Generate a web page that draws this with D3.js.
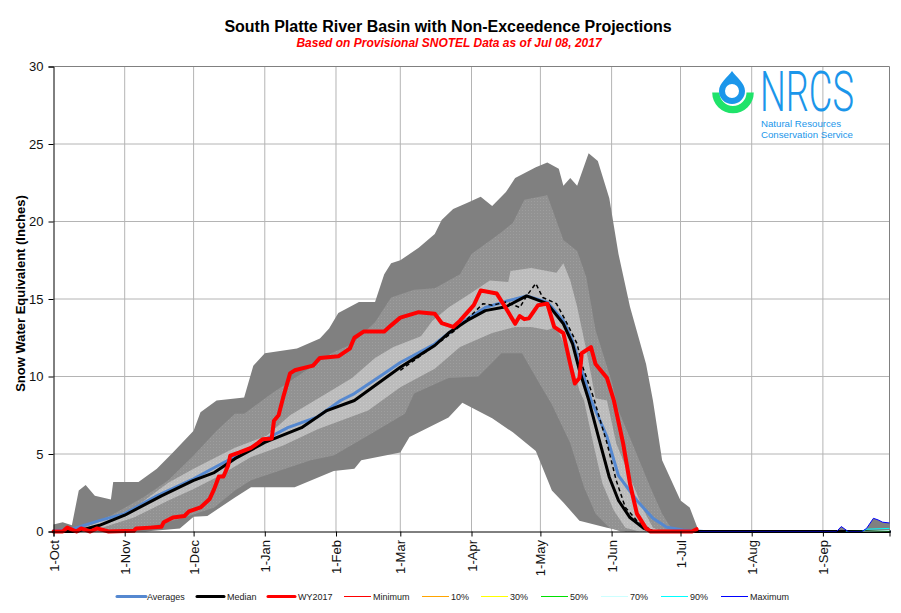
<!DOCTYPE html>
<html>
<head>
<meta charset="utf-8">
<script src="https://cdn.jsdelivr.net/npm/d3@7"></script>
<style>
  html, body { margin: 0; padding: 0; background: #fff; }
  svg { display: block; font-family: "Liberation Sans", Arial, sans-serif; }
</style>
</head>
<body>
<svg id="chart" width="901" height="613"></svg>
<script>
// all series are [day of water year, inches]
const tickDays = [0, 31, 61, 92, 123, 151, 182, 212, 243, 273, 304, 335];
const tickLabels = ["1-Oct", "1-Nov", "1-Dec", "1-Jan", "1-Feb", "1-Mar", "1-Apr", "1-May", "1-Jun", "1-Jul", "1-Aug", "1-Sep"];
const yTicks = [0, 5, 10, 15, 20, 25, 30];

const bandMax = [[0,.45],[4,.6],[8,.4],[11,2.65],[14,3],[18,2.3],[25,2.06],[26,3.2],[37,3.2],[45,4.05],[52,5.1],[61,6.5],[64,7.7],[71,8.45],[83,8.65],[87,10.7],[92,11.5],[106,11.8],[116,12.45],[120,13.1],[124,14.1],[133,14.8],[140,14.8],[144,16.6],[147,17.3],[151,17.5],[159,18.3],[166,19.2],[169,20.1],[174,20.8],[180,21.2],[186,21.6],[191,21],[197,21.9],[201,22.8],[210,23.5],[215,23.8],[220,23.4],[222,22.3],[225,22.8],[228,22.3],[233,24.4],[237,23.9],[242,21.5],[246,17.9],[251,14.5],[258,10.8],[261,8.45],[265,4.6],[273,2],[277,1.55],[281,0],[341,0],[343,.32],[346,0],[352,0],[354,.2],[357,.85],[359,.75],[361,.6],[364,.55]];
const bandUpper = [[8,0],[25,1.03],[39,2.2],[50,3.3],[61,4.9],[71,6.5],[79,7.6],[83,7.6],[95,8.9],[108,10.2],[121,11.5],[130,12.1],[140,13.5],[147,15.1],[157,15.6],[166,15.7],[177,16.6],[182,17.9],[194,19.2],[200,19.9],[205,21.4],[215,21.7],[222,18.8],[228,18.1],[232,16.4],[236,13],[243,9.7],[246,7.8],[252,5.7],[260,2.8],[265,1.15],[269,.2],[273,0]];
const bandLightUpper = [[10,.05],[35,1.5],[50,3.15],[61,4.05],[71,4.8],[79,5.4],[93,6.2],[103,7.5],[121,9.1],[130,9.9],[140,11.2],[148,11.9],[160,12.6],[165,13.6],[172,14.45],[181,15.3],[190,16.2],[198,16.1],[199,16.8],[208,17],[219,16.7],[222,17.3],[225,16.2],[228,14.5],[232,11.7],[236,8.6],[241,8.45],[245,5.7],[251,3.5],[257,1.35],[261,.25],[265,0]];
const bandLightLower = [[12,0],[20,.2],[35,.9],[50,2],[61,2.75],[71,3.5],[86,4.8],[100,5.55],[115,6.6],[137,7.8],[151,9.3],[166,10.5],[177,11.9],[191,12.8],[201,13.2],[208,13.2],[215,13],[219,13.2],[225,11.2],[229,9.1],[231,8.45],[235,5.7],[239,3.1],[244,1.35],[249,.25],[255,0]];
const bandLower = [[33,0],[47,.5],[57,.9],[70,1.55],[79,2.65],[86,3.3],[98,3.9],[112,4.6],[122,4.9],[137,6.2],[153,7.6],[157,8.9],[172,9.9],[185,10],[193,11.2],[195,11.5],[204,11.5],[211,9.7],[217,8.2],[225,5.7],[231,2.85],[236,1.15],[242,.25],[247,0]];
const bandMin = [[40,0],[55,.2],[61,.95],[67,1],[79,2.2],[86,2.85],[105,2.85],[122,3.9],[131,4.05],[134,4.6],[151,5.1],[155,6.1],[172,7.35],[178,8.3],[191,7.3],[200,6.4],[210,5.2],[217,2.65],[222,1.87],[229,.7],[241,.25],[249,0]];

const averages = [[0,.05],[8,.15],[20,.7],[31,1.15],[45,2.3],[61,3.4],[76,4.6],[93,6],[102,6.7],[115,7.4],[125,8.45],[131,8.9],[144,10.2],[151,10.9],[166,12.1],[180,13.7],[188,14.45],[197,14.85],[206,15.2],[215,14.8],[222,13.6],[226,12.3],[230,10.4],[234,8.5],[241,6.1],[246,3.6],[254,2],[261,.85],[267,.28],[274,.1],[283,0],[364,0]];
const median = [[0,0],[10,0],[20,.4],[31,1.05],[47,2.3],[61,3.3],[70,3.8],[79,4.7],[92,5.75],[108,6.7],[119,7.8],[131,8.45],[137,9.1],[151,10.6],[166,12],[172,12.8],[180,13.6],[188,14.25],[197,14.5],[206,15.2],[215,14.7],[222,13.4],[226,12.1],[229,10.4],[233,8.5],[238,5.7],[242,3.5],[246,2],[251,.9],[257,.2],[261,0],[364,0]];
const medianDashed = [[151,10.4],[166,12],[172,12.65],[175,13],[184,14.25],[187,14.7],[191,14.6],[197,14.8],[203,14.45],[206,15.2],[210,16],[213,15.1],[219,14.7],[223,13.6],[228,12.1],[230,10.8],[235,8.7],[241,5.7],[245,3.3],[249,1.55],[254,.7],[261,0]];
const wy2017 = [[0,0],[4,0],[6,.25],[10,0],[12,.2],[16,0],[19,.2],[24,0],[35,.05],[36,.2],[42,.25],[47,.3],[48,.6],[52,.9],[57,1],[59,1.3],[64,1.55],[68,2.1],[70,2.75],[72,3.55],[74,3.55],[76,4.25],[77,4.9],[81,5.1],[86,5.4],[89,5.7],[91,5.95],[95,6],[96,7.15],[98,7.5],[100,8.65],[103,10.2],[105,10.4],[113,10.7],[116,11.2],[124,11.3],[129,11.8],[131,12.5],[135,12.9],[144,12.9],[147,13.3],[151,13.8],[159,14.15],[166,14.05],[169,13.45],[174,13.2],[177,13.6],[180,14.1],[183,14.6],[186,15.55],[193,15.35],[197,14.4],[201,13.4],[203,13.9],[205,13.7],[207,13.75],[211,14.6],[215,14.7],[218,13.2],[222,12.8],[225,10.8],[227,9.55],[229,9.9],[230,11.5],[234,11.9],[236,10.8],[241,9.9],[244,8.45],[248,5.7],[251,3.1],[254,1.15],[258,.2],[260,0],[278,0],[280,.15]];

const maxLine = [[281,0],[341,0],[343,.32],[346,0],[352,0],[354,.2],[357,.85],[359,.75],[361,.6],[364,.55]];
const p90Line = [[345,0],[352,0],[354,.15],[364,.2]];
const p70Line = [[352,0],[364,.06]];
const p50Line = [[345,0],[364,.03]];

const legendLabels = ["Averages", "Median", "WY2017", "Minimum", "10%", "30%", "50%", "70%", "90%", "Maximum"];
const legendColors = ["#5588d0", "#000000", "#ff0000", "#ff0000", "#ffa500", "#ffff00", "#00e000", "#ccffff", "#00ffff", "#0000ff"];

const svg = d3.select("#chart");
const x = d3.scaleLinear().domain([0, 364]).range([53.5, 889.5]);
const y = d3.scaleLinear().domain([0, 30]).range([531.5, 66.5]);
const line = d3.line().x((d) => x(d[0])).y((d) => y(d[1]));

// stippled fills for the two inner bands
const defs = svg.append("defs");
const stipple = (id, base, dot) => {
  const p = defs.append("pattern").attr("id", id).attr("width", 3).attr("height", 3).attr("patternUnits", "userSpaceOnUse");
  p.append("rect").attr("width", 3).attr("height", 3).attr("fill", base);
  p.append("rect").attr("width", 1).attr("height", 1).attr("fill", dot);
};
stipple("medium", "#929292", "#9e9e9e");
stipple("light", "#bcbcbc", "#c8c8c8");

// grid
svg.append("g").selectAll("line").data(tickDays.slice(1)).join("line")
  .attr("x1", (d) => x(d)).attr("x2", (d) => x(d))
  .attr("y1", y(30)).attr("y2", y(0))
  .attr("stroke", "#b4b4b4");
svg.append("g").selectAll("line").data(yTicks.slice(1, -1)).join("line")
  .attr("x1", x(0)).attr("x2", x(364))
  .attr("y1", (d) => y(d)).attr("y2", (d) => y(d))
  .attr("stroke", "#b4b4b4");
svg.append("path")
  .attr("d", `M${x(0)},${y(30)}H${x(364)}V${y(0)}`)
  .attr("fill", "none").attr("stroke", "#808080");

// logo sits behind the bands, grid runs through it
const logo = svg.append("g");
logo.append("path")
  .attr("d", d3.arc().innerRadius(13.5).outerRadius(20.8).startAngle(Math.PI / 2).endAngle(Math.PI * 1.5)())
  .attr("transform", "translate(733,92.5)").attr("fill", "#1fe36a");
logo.append("path")
  .attr("d", "M732,71 C736,77 745,83 745,91 A13,13 0 0 1 719,91 C719,83 728,77 732,71 Z M732,84 A7,7 0 0 0 732,98 A7,7 0 0 0 732,84 Z")
  .attr("fill", "#1b96ea").attr("fill-rule", "evenodd");
const nrcs = logo.append("text").attr("font-family", "Roboto").attr("font-weight", 300)
  .attr("font-size", 55).attr("fill", "#1b96ea").text("NRCS");
nrcs.attr("transform", `translate(760,111) scale(${94 / nrcs.node().getComputedTextLength()},1)`);
logo.append("text").attr("x", 761).attr("y", 127).attr("textLength", 80).attr("lengthAdjust", "spacingAndGlyphs")
  .attr("font-size", 9.5).attr("fill", "#1b96ea").text("Natural Resources");
logo.append("text").attr("x", 761).attr("y", 138).attr("textLength", 92).attr("lengthAdjust", "spacingAndGlyphs")
  .attr("font-size", 9.5).attr("fill", "#1b96ea").text("Conservation Service");

// bands: upper edge forward, lower edge back
const band = (upper, lower, fill) =>
  svg.append("path")
    .attr("d", line([...upper, ...lower.slice().reverse()]) + "Z")
    .attr("fill", fill);
band(bandMax, [[0, 0], ...bandMin, [364, 0]], "#808080");
band(bandUpper, bandLower, "url(#medium)");
band(bandLightUpper, bandLightLower, "url(#light)");

// thin percentile lines only show past the melt
const thin = (data, color) =>
  svg.append("path").attr("d", line(data)).attr("fill", "none").attr("stroke", color).attr("stroke-width", 1);

const heavy = (data, color, width) =>
  svg.append("path").attr("d", line(data)).attr("fill", "none").attr("stroke", color)
    .attr("stroke-width", width).attr("stroke-linejoin", "round").attr("stroke-linecap", "round");

heavy(averages, legendColors[0], 3);
heavy(median, legendColors[1], 3);
heavy(medianDashed, "#000", 1.5).attr("stroke-dasharray", "4,3").attr("stroke-linecap", "butt");
thin(p50Line, legendColors[6]);
thin(p70Line, legendColors[7]);
thin(p90Line, legendColors[8]);
thin(maxLine, legendColors[9]);
heavy(wy2017, legendColors[2], 4);

// axes
const yAxis = d3.axisLeft(y).tickValues(yTicks).tickSize(5).tickPadding(5);
const gy = svg.append("g").attr("transform", `translate(${x(0)},0)`).call(yAxis);
const xAxis = d3.axisBottom(x).tickValues(tickDays).tickFormat((d, i) => tickLabels[i]).tickSize(5).tickPadding(6);
const gx = svg.append("g").attr("transform", `translate(0,${y(0)})`).call(xAxis);
gy.selectAll("text").attr("font-size", 13).attr("font-family", "Liberation Sans").attr("fill", "#111");
gx.selectAll("text")
  .attr("font-size", 13).attr("font-family", "Liberation Sans").attr("fill", "#111")
  .attr("text-anchor", "end").attr("dy", "0.35em")
  .attr("transform", "rotate(-90) translate(-8.5,0)").attr("x", 0).attr("y", 0).attr("dx", 0);
gx.select(".domain").attr("stroke", "#000");
gy.select(".domain").attr("stroke", "#000");

// titles
svg.append("text").attr("x", 448).attr("y", 32).attr("text-anchor", "middle")
  .attr("font-size", 16).attr("font-weight", "bold").text("South Platte River Basin with Non-Exceedence Projections");
svg.append("text").attr("x", 449).attr("y", 47).attr("text-anchor", "middle")
  .attr("font-size", 12).attr("font-weight", "bold").attr("font-style", "italic").attr("fill", "#ff0000")
  .text("Based on Provisional SNOTEL Data as of Jul 08, 2017");
svg.append("text").attr("transform", "translate(24.5,293.5) rotate(-90)").attr("text-anchor", "middle")
  .attr("font-size", 13).attr("font-weight", "bold").text("Snow Water Equivalent (Inches)");

// legend
const legendX = [117, 197, 268, 344, 422, 481, 541, 601, 661, 721];
const legendWidth = [3, 3, 3, 1, 1, 1, 1, 1, 1, 1];
const legend = svg.append("g").selectAll("g").data(legendLabels).join("g")
  .attr("transform", (d, i) => `translate(${legendX[i]},596.5)`);
legend.append("line").attr("x2", (d, i) => (i === 0 ? 29 : 27)).attr("stroke", (d, i) => legendColors[i])
  .attr("stroke-width", (d, i) => legendWidth[i]).attr("stroke-linecap", (d, i) => (i < 3 ? "round" : "butt"));
legend.append("text").attr("x", (d, i) => (i < 3 ? 30 : 29)).attr("y", 3).attr("font-size", 9).attr("fill", "#222").text((d) => d);
</script>
</body>
</html>
